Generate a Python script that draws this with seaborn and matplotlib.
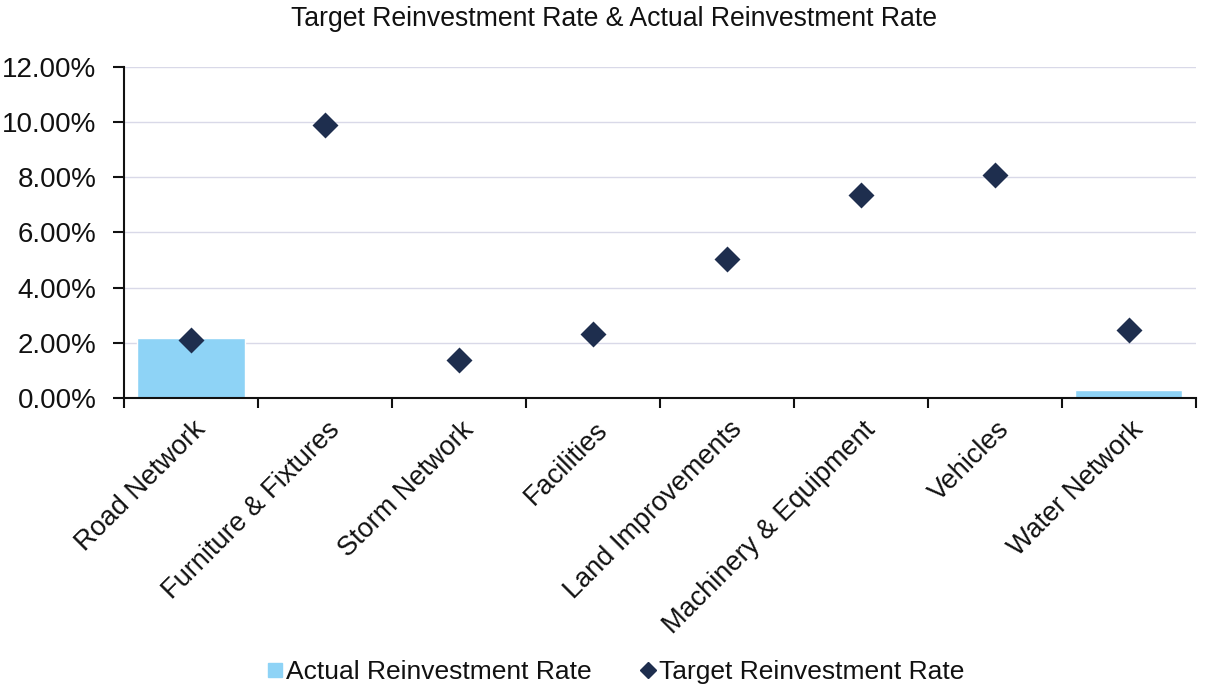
import matplotlib
matplotlib.use("Agg")
import matplotlib.pyplot as plt
import matplotlib.ticker as mticker
import matplotlib.transforms as mtransforms
from matplotlib.lines import Line2D
import seaborn as sns
import pandas as pd
import numpy as np

categories = ["Road Network", "Furniture & Fixtures", "Storm Network", "Facilities",
              "Land Improvements", "Machinery & Equipment", "Vehicles", "Water Network"]
actual_rate = [0.0217, 0.0, 0.0, 0.0, 0.0, 0.0, 0.0, 0.0030]
target_rate = [0.0210, 0.0989, 0.0138, 0.0232, 0.0504, 0.0736, 0.0808, 0.0246]
y_ticks = [0.0, 0.02, 0.04, 0.06, 0.08, 0.10, 0.12]

df = pd.DataFrame({"Category": categories, "Actual": actual_rate, "Target": target_rate})

sns.set_theme(style="white")
plt.rcParams["font.family"] = ["Liberation Sans", "DejaVu Sans"]
plt.rcParams["xtick.bottom"] = True
plt.rcParams["ytick.left"] = True

bar_color = "#8ED3F6"
marker_color = "#1E2E4E"
ink = "#111111"

fig = plt.figure(figsize=(12.09, 6.89), dpi=100)
ax = fig.add_axes([0.1026, 0.4224, 0.8864, 0.4804])

sns.barplot(data=df, x="Category", y="Actual", color=bar_color, width=0.8,
            saturation=1, ax=ax, zorder=2)
sns.pointplot(data=df, x="Category", y="Target", color=marker_color, marker="D",
              linestyle="none", markersize=11, ax=ax, zorder=3)

ax.set_xlim(-0.5, len(categories) - 0.5)
ax.set_ylim(0, 0.12)
ax.set_yticks(y_ticks)
ax.yaxis.set_major_formatter(mticker.FuncFormatter(lambda v, p: f"{v*100:.2f}%"))
ax.yaxis.grid(True, color="#D9D9E8", linewidth=1.0, zorder=0)
ax.set_axisbelow(True)

for s in ["top", "right"]:
    ax.spines[s].set_visible(False)
for s in ["left", "bottom"]:
    ax.spines[s].set_visible(True)
    ax.spines[s].set_color(ink)
    ax.spines[s].set_linewidth(1.5)

ax.set_xticks(range(len(categories)))
ax.set_xticks(np.arange(-0.5, len(categories), 1.0), minor=True)
ax.tick_params(axis="x", which="major", bottom=False, length=0, pad=20, labelcolor=ink)
ax.tick_params(axis="x", which="minor", bottom=True, length=7, width=1.5,
               color=ink, direction="out")
ax.tick_params(axis="y", which="major", left=True, length=8, width=1.5, color=ink,
               direction="out", labelsize=20, pad=12, labelcolor=ink)
ax.set_xticklabels(categories, rotation=45, ha="right", va="center",
                   rotation_mode="anchor", fontsize=19.5)

ax.set_xlabel("")
ax.set_ylabel("")

# nudge the rotated category names so they end just right of the category centre
fig.canvas.draw()
shift = mtransforms.ScaledTranslation(11 / 100, 0, fig.dpi_scale_trans)
for tick in ax.xaxis.get_major_ticks():
    tick.label1.set_transform(tick.label1.get_transform() + shift)

fig.text(0.508, 0.972, "Target Reinvestment Rate & Actual Reinvestment Rate",
         ha="center", va="center", fontsize=19.2, color=ink)

handles = [Line2D([], [], marker="s", linestyle="none", color=bar_color, markersize=10,
                  label="Actual Reinvestment Rate"),
           Line2D([], [], marker="D", linestyle="none", color=marker_color, markersize=8,
                  label="Target Reinvestment Rate")]
fig.legend(handles=handles, loc="center", bbox_to_anchor=(0.510, 0.025), ncol=2,
           frameon=False, fontsize=19, handlelength=0.5, handletextpad=0.15,
           columnspacing=1.9, labelcolor=ink)

fig.savefig("out.png", dpi=100, facecolor="white")
